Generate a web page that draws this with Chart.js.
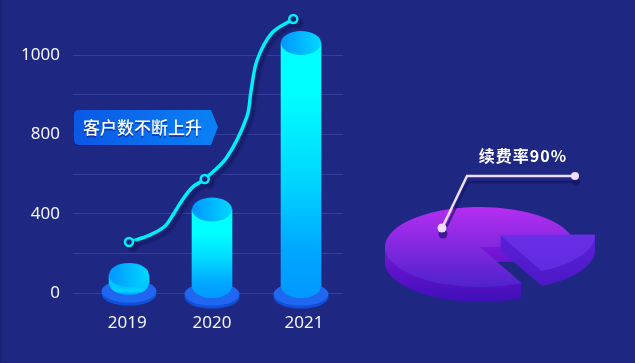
<!DOCTYPE html>
<html>
<head>
<meta charset="utf-8">
<script src="https://cdn.jsdelivr.net/npm/chart.js@4"></script>
<style>
  html, body { margin: 0; padding: 0; background: #1e2782; }
  #wrap { position: relative; width: 635px; height: 363px; overflow: hidden; border-left: 2px solid #1b2378; box-sizing: border-box; }
  canvas { position: absolute; left: -2px; top: 0; }
</style>
</head>
<body>
<div id="wrap">
  <canvas id="main" width="635" height="363"></canvas>
  <canvas id="pie" width="635" height="363"></canvas>
</div>
<script>
const years = ['2019', '2020', '2021'];
const barX = [2019, 2019.965, 2021];
const barTops = [91, 421, 1261];
const barBases = [50, 35, 35];
const xTickX = [2018.98, 2019.965, 2021.035];

const yTickLabels = ['0', '', '400', '', '800', '', '1000', ''];

const lineX = [2019, 2019.24, 2019.42, 2019.51, 2019.62, 2019.74, 2019.88, 2020.14, 2020.37, 2020.42, 2020.49, 2020.66, 2020.91];
const lineValues = [257, 292, 338, 393, 469, 534, 575, 686, 888, 1024, 1175, 1311, 1382];
const lineMarked = [0, 6, 12];

const tagText = '客户数不断上升';
const pieLabel = '续费率90%';
const pieValues = [82, 18];

const fontCjk = '"Noto Sans CJK SC", "Noto Sans", sans-serif';
const bg = '#1e2782';
const squash = 40 / 95;
const pieDepth = 15;

Chart.defaults.animation = false;

function ellipse(ctx, x, y, rx, ry, fill) {
  ctx.beginPath();
  ctx.ellipse(x, y, rx, ry, 0, 0, Math.PI * 2);
  ctx.fillStyle = fill;
  ctx.fill();
}

function bodyGradient(ctx, top, bottom, firstStop) {
  const g = ctx.createLinearGradient(0, top, 0, bottom);
  g.addColorStop(0, firstStop);
  g.addColorStop(0.15, firstStop);
  g.addColorStop(0.5, '#00d8ff');
  g.addColorStop(0.8, '#00a8ff');
  g.addColorStop(1, '#0098ff');
  return g;
}

function barFill(chart, i) {
  const y = chart.scales.y;
  const top = y.getPixelForValue(barTops[i]);
  // the scale has no size yet on the first pass
  if (!Number.isFinite(top)) return '#00d8ff';
  return bodyGradient(chart.ctx, top + 12, y.getPixelForValue(barBases[i]) + 12, i === 0 ? '#00c8ff' : '#00ffff');
}

// cylinder parts around the library's own bar rectangles
const cylinders = {
  id: 'cylinders',
  beforeDatasetDraw(chart, args) {
    if (args.meta.type !== 'bar') return;
    const ctx = chart.ctx;
    args.meta.data.forEach((bar) => {
      const p = bar.getProps(['x', 'base']);
      ellipse(ctx, p.x, p.base + 11, 27.5, 11.5, '#0f50d8');
      ellipse(ctx, p.x, p.base + 8, 27.5, 11.5, '#1f66f0');
    });
  },
  afterDatasetDraw(chart, args) {
    if (args.meta.type !== 'bar') return;
    const ctx = chart.ctx;
    args.meta.data.forEach((bar, i) => {
      const p = bar.getProps(['x', 'y', 'base']);
      const rx = bar.width / 2;
      ctx.save();
      ctx.beginPath();
      ctx.rect(p.x - rx, p.base, rx * 2, 14);
      ctx.clip();
      ellipse(ctx, p.x, p.base, rx, 12, barFill(chart, i));
      ctx.restore();
      const cap = ctx.createLinearGradient(p.x - rx, 0, p.x + rx, 0);
      cap.addColorStop(0, '#0096ff');
      cap.addColorStop(1, '#00d8ff');
      ellipse(ctx, p.x, p.y, rx, 12, cap);
    });
  },
};

const lineShadow = {
  id: 'lineShadow',
  beforeDatasetDraw(chart, args) {
    if (args.meta.type !== 'line') return;
    const ctx = chart.ctx;
    ctx.save();
    ctx.shadowColor = '#171d68';
    ctx.shadowOffsetX = 4;
    ctx.shadowOffsetY = 4;
    ctx.shadowBlur = 2;
  },
  afterDatasetDraw(chart, args) {
    if (args.meta.type === 'line') chart.ctx.restore();
  },
};

const tag = {
  id: 'tag',
  afterDraw(chart) {
    const ctx = chart.ctx;
    const path = (dy) => {
      ctx.beginPath();
      ctx.moveTo(79, 110 + dy);
      ctx.lineTo(211, 110 + dy);
      ctx.lineTo(218, 127 + dy);
      ctx.lineTo(211, 145 + dy);
      ctx.lineTo(79, 145 + dy);
      ctx.quadraticCurveTo(74, 145 + dy, 74, 140 + dy);
      ctx.lineTo(74, 115 + dy);
      ctx.quadraticCurveTo(74, 110 + dy, 79, 110 + dy);
      ctx.closePath();
    };
    ctx.save();
    path(1);
    ctx.fillStyle = '#151c6e';
    ctx.fill();
    const g = ctx.createLinearGradient(74, 0, 218, 0);
    g.addColorStop(0, '#0a58e6');
    g.addColorStop(1, '#0a82f6');
    path(0);
    ctx.fillStyle = g;
    ctx.fill();
    ctx.font = '500 17px ' + fontCjk;
    ctx.textAlign = 'left';
    ctx.textBaseline = 'middle';
    ctx.fillStyle = 'rgba(10,40,150,0.7)';
    ctx.fillText(tagText, 83, 130);
    ctx.fillStyle = '#ffffff';
    ctx.fillText(tagText, 83, 128);
    ctx.restore();
  },
};

new Chart(document.getElementById('main'), {
  type: 'bar',
  data: {
    datasets: [
      {
        type: 'line',
        order: 0,
        data: lineX.map((x, i) => ({ x, y: lineValues[i] })),
        borderColor: '#00f0f8',
        borderWidth: 3.5,
        tension: 0.35,
        clip: false,
        pointRadius: (c) => (lineMarked.includes(c.dataIndex) ? 4 : 0),
        pointBackgroundColor: bg,
        pointBorderColor: '#00f0f8',
        pointBorderWidth: 2.5,
      },
      {
        order: 1,
        data: barX.map((x, i) => ({ x, y: [barBases[i], barTops[i]] })),
        barThickness: 40,
        borderSkipped: false,
        backgroundColor: (c) => barFill(c.chart, c.dataIndex),
      },
    ],
  },
  options: {
    responsive: false,
    layout: { padding: { top: 15.4, right: 292, left: 0, bottom: 0 } },
    plugins: { legend: { display: false }, tooltip: { enabled: false } },
    scales: {
      x: {
        type: 'linear',
        offset: false,
        min: 2018.349,
        max: 2021.488,
        grid: { display: false },
        border: { display: false },
        afterBuildTicks: (s) => { s.ticks = xTickX.map((value) => ({ value })); },
        afterFit: (s) => { s.height = 70; s.paddingLeft = 0; s.paddingRight = 0; },
        ticks: {
          autoSkip: false,
          maxRotation: 0,
          padding: 12,
          color: '#f4f5fb',
          font: { family: '"Noto Sans"', size: 17 },
          callback: (v, i) => years[i],
        },
      },
      y: {
        min: 0,
        max: 1400,
        grid: {
          drawTicks: false,
          color: (c) => (c.index === 7 ? 'transparent' : '#363d9c'),
        },
        border: { display: false },
        afterFit: (s) => { s.width = 73; s.paddingTop = 0; s.paddingBottom = 0; },
        ticks: {
          stepSize: 200,
          padding: 13,
          color: '#f4f5fb',
          font: { family: '"Noto Sans"', size: 17 },
          callback: (v, i) => yTickLabels[i],
        },
      },
    },
  },
  plugins: [cylinders, lineShadow, tag],
});

// squashed pie with a side wall, drawn from the library's arc elements
function sector(ctx, arc, dx, dy) {
  ctx.save();
  ctx.translate(arc.x + dx, arc.y + dy);
  ctx.scale(1, squash);
  ctx.beginPath();
  ctx.moveTo(0, 0);
  ctx.arc(0, 0, arc.outerRadius, arc.startAngle, arc.endAngle);
  ctx.closePath();
  ctx.restore();
}

const pie3d = {
  id: 'pie3d',
  beforeDatasetsDraw(chart) {
    const ctx = chart.ctx;
    const arcs = chart.getDatasetMeta(0).data.map((a) => a.getProps(['x', 'y', 'startAngle', 'endAngle', 'outerRadius']));
    const layers = [
      { arc: arcs[0], dx: 0, dy: 0, side: ['#7a16d8', '#3f0fb8'], top: ['#b52ef2', '#4f22cc'] },
      { arc: arcs[1], dx: 20, dy: -12, side: ['#5a20d8', '#4a18c4'], top: ['#7232ea', '#5f2ae0'] },
    ];
    layers.forEach(({ arc, dx, dy, side, top }) => {
      const cy = arc.y + dy;
      const r = arc.outerRadius * squash;
      const sg = ctx.createLinearGradient(0, cy, 0, cy + r + pieDepth);
      sg.addColorStop(0, side[0]);
      sg.addColorStop(1, side[1]);
      ctx.fillStyle = sg;
      for (let d = pieDepth; d > 0; d--) {
        sector(ctx, arc, dx, dy + d);
        ctx.fill();
      }
      const tg = ctx.createLinearGradient(0, cy - r, 0, cy + r);
      tg.addColorStop(0, top[0]);
      tg.addColorStop(1, top[1]);
      ctx.fillStyle = tg;
      sector(ctx, arc, dx, dy);
      ctx.fill();
    });
    return false;
  },
  afterDraw(chart) {
    const ctx = chart.ctx;
    const leader = (dx, dy, color) => {
      ctx.strokeStyle = color;
      ctx.fillStyle = color;
      ctx.lineWidth = 2.5;
      ctx.beginPath();
      ctx.moveTo(442 + dx, 228 + dy);
      ctx.lineTo(467 + dx, 176 + dy);
      ctx.lineTo(575 + dx, 176 + dy);
      ctx.stroke();
      ctx.beginPath();
      ctx.arc(442 + dx, 228 + dy, 4.5, 0, Math.PI * 2);
      ctx.fill();
      ctx.beginPath();
      ctx.arc(575 + dx, 176 + dy, 4, 0, Math.PI * 2);
      ctx.fill();
    };
    ctx.save();
    leader(1, 6, 'rgba(20,20,100,0.65)');
    leader(0, 0, '#f0dcff');
    ctx.font = '600 16px ' + fontCjk;
    ctx.letterSpacing = '1px';
    ctx.textAlign = 'center';
    ctx.textBaseline = 'middle';
    ctx.fillStyle = '#ffffff';
    ctx.fillText(pieLabel, 523, 156);
    ctx.restore();
  },
};

new Chart(document.getElementById('pie'), {
  type: 'pie',
  data: { datasets: [{ data: pieValues, borderWidth: 0, radius: 95, rotation: 154 }] },
  options: {
    responsive: false,
    layout: { padding: { left: 325, top: 131, right: 0, bottom: 0 } },
    plugins: { legend: { display: false }, tooltip: { enabled: false } },
  },
  plugins: [pie3d],
});
</script>
</body>
</html>
